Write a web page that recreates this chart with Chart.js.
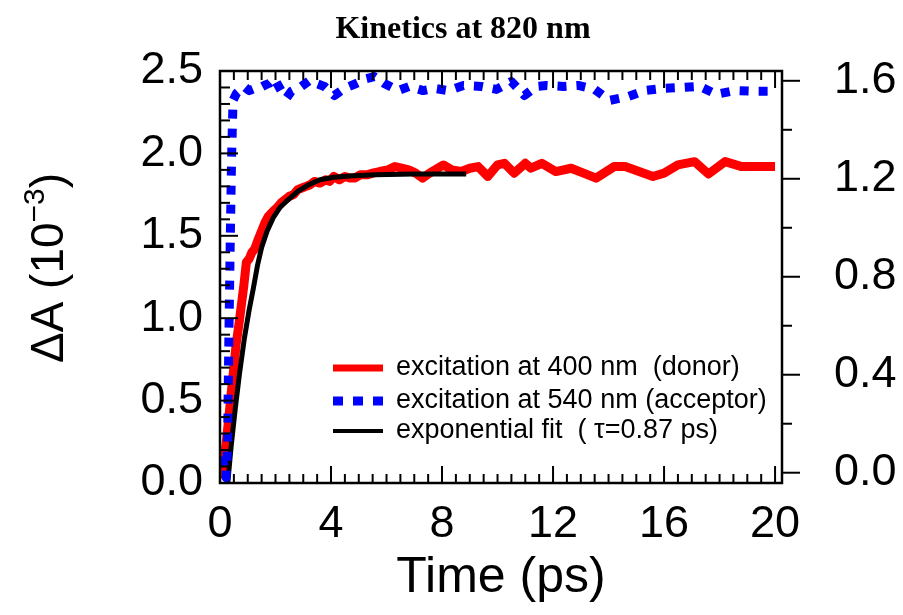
<!DOCTYPE html>
<html>
<head>
<meta charset="utf-8">
<script src="https://cdn.jsdelivr.net/npm/chart.js@4.4.0/dist/chart.umd.min.js"></script>
<style>
  html, body { margin: 0; padding: 0; background: #fff; }
</style>
</head>
<body>
<canvas id="grafico" width="903" height="615"></canvas>
<script>
// dati (tempo in ps, deltaA in 10^-3)
const redTime = [0.0, 0.05, 0.12, 0.22, 0.32, 0.4, 0.5, 0.58, 0.68, 0.77, 0.86, 0.95, 1.05, 1.15, 1.25, 1.38, 1.5, 1.62, 1.75, 1.92,
  2.05, 2.2, 2.35, 2.5, 2.65, 2.8, 2.95, 3.1, 3.25, 3.4, 3.6, 3.8, 3.95, 4.1, 4.3, 4.5, 4.7, 4.85, 5.05, 5.3,
  5.5, 5.75, 6.05, 6.3, 6.55, 6.8, 7.05, 7.3, 7.55, 7.75, 8.05, 8.35, 8.7, 9.0, 9.3, 9.65, 10.0, 10.25, 10.6, 11.0,
  11.2, 11.6, 12.1, 12.65, 13.1, 13.55, 14.2, 14.6, 15.1, 15.6, 16.0, 16.5, 17.1, 17.6, 18.2, 18.8, 19.4, 20.0];
const redValue = [0.03, 0.06, 0.1, 0.24, 0.4, 0.54, 0.7, 0.84, 0.96, 1.08, 1.2, 1.34, 1.36, 1.4, 1.42, 1.48, 1.53, 1.58, 1.62, 1.65,
  1.67, 1.7, 1.72, 1.74, 1.75, 1.78, 1.79, 1.8, 1.81, 1.83, 1.82, 1.84, 1.83, 1.86, 1.84, 1.86, 1.85, 1.85, 1.87, 1.87,
  1.88, 1.89, 1.9, 1.92, 1.91, 1.9, 1.88, 1.85, 1.88, 1.9, 1.93, 1.9, 1.89, 1.91, 1.92, 1.86, 1.93, 1.94, 1.88, 1.94,
  1.91, 1.94, 1.89, 1.91, 1.88, 1.85, 1.92, 1.92, 1.89, 1.86, 1.88, 1.93, 1.95, 1.875, 1.95, 1.92, 1.92, 1.92];

// serie blu sull'asse destro
const blueTime = [0.0, 0.08, 0.15, 0.22, 0.27, 0.32, 0.37, 0.42, 0.47, 0.6, 0.87, 1.05, 1.24, 1.42, 1.6, 1.78, 1.96, 2.2, 2.4, 2.57,
  2.93, 3.22, 3.47, 3.76, 4.12, 4.48, 4.91, 5.27, 5.56, 5.92, 6.42, 6.82, 7.32, 7.72, 8.23, 8.77, 9.41, 9.96, 10.5, 10.97,
  11.4, 11.77, 12.37, 12.9, 13.5, 14.04, 14.72, 15.3, 15.98, 16.7, 17.28, 17.89, 18.54, 19.26, 19.94];
const blueValue = [0.06, 0.05, 0.03, -0.02, 0.1, 0.55, 0.95, 1.3, 1.52, 1.55, 1.577, 1.56, 1.569, 1.57, 1.581, 1.59, 1.609, 1.56, 1.53, 1.557,
  1.577, 1.601, 1.589, 1.577, 1.54, 1.569, 1.589, 1.609, 1.617, 1.589, 1.56, 1.577, 1.56, 1.569, 1.56, 1.581, 1.577, 1.565, 1.597, 1.54,
  1.577, 1.581, 1.577, 1.581, 1.565, 1.52, 1.536, 1.56, 1.569, 1.573, 1.577, 1.545, 1.56, 1.557, 1.557];

// fit esponenziale
const fitTime = [0.28, 0.4, 0.55, 0.7, 0.88, 1.05, 1.2, 1.35, 1.5, 1.7, 1.92, 2.15, 2.46, 2.8, 3.2, 3.6, 4.1, 4.8, 5.6, 7.0, 8.87];
const fitValue = [0.0, 0.22, 0.45, 0.66, 0.88, 1.05, 1.18, 1.32, 1.43, 1.53, 1.61, 1.67, 1.72, 1.77, 1.81, 1.84, 1.855, 1.865, 1.87, 1.875, 1.875];

const xTicks = [0, 4, 8, 12, 16, 20];
const leftTicks = [0, 0.5, 1.0, 1.5, 2.0, 2.5];
const rightTicks = [0, 0.4, 0.8, 1.2, 1.6];

const chartTitle = "Kinetics at 820 nm";
const legendLabels = [
  "excitation at 400 nm  (donor)",
  "excitation at 540 nm (acceptor)",
  "exponential fit  ( \u03c4=0.87 ps)"
];

const punti = (tt, vv) => tt.map((t, i) => ({ x: t, y: vv[i] }));
const fontTick = { family: "'Liberation Sans', Arial, sans-serif", size: 45 };

// cornice e tacche interne/esterne
const cornice = {
  id: "cornice",
  afterDatasetsDraw(chart) {
    const { ctx, chartArea: a, scales } = chart;
    const sx = scales.x, yl = scales.y, yr = scales.y2;
    const seg = (x1, y1, x2, y2) => { ctx.beginPath(); ctx.moveTo(x1, y1); ctx.lineTo(x2, y2); ctx.stroke(); };
    ctx.save();
    ctx.strokeStyle = "#000";
    ctx.lineWidth = 2;
    for (let i = 0; i <= 40; i++) {
      const px = sx.getPixelForValue(i * 0.5);
      const len = i % 8 === 0 ? 17 : 9;
      seg(px, a.bottom, px, a.bottom - len);
      seg(px, a.top, px, a.top + len);
    }
    for (let i = 0; i <= 25; i++) {
      const py = yl.getPixelForValue(i * 0.1);
      seg(a.left, py, a.left + (i % 5 === 0 ? 18 : 10), py);
    }
    for (let i = 0; i <= 8; i++) {
      const py = yr.getPixelForValue(i * 0.2);
      seg(a.right, py, a.right + (i % 2 === 0 ? 18 : 10), py);
    }
    ctx.lineWidth = 2.5;
    ctx.strokeRect(a.left, a.top, a.right - a.left, a.bottom - a.top);
    ctx.restore();
  }
};

// legenda dentro l'area del grafico, titolo e titolo asse y
const testi = {
  id: "testi",
  afterDraw(chart) {
    const ctx = chart.ctx;
    ctx.save();
    ctx.fillStyle = "#000";

    // titolo
    ctx.font = "bold 32px 'Liberation Serif', 'Times New Roman', serif";
    ctx.textAlign = "center";
    ctx.textBaseline = "alphabetic";
    ctx.fillText(chartTitle, 463, 38);

    // legenda
    const righe = [368, 401, 431];
    ctx.font = "27px 'Liberation Sans', Arial, sans-serif";
    ctx.textAlign = "left";
    ctx.textBaseline = "middle";
    chart.data.datasets.forEach((ds, i) => {
      const y = righe[i];
      ctx.strokeStyle = ds.borderColor;
      ctx.lineWidth = ds.legendWidth;
      ctx.setLineDash(ds.borderDash.length ? [10, 10] : []);
      ctx.beginPath();
      ctx.moveTo(333, y);
      ctx.lineTo(383, y);
      ctx.stroke();
      ctx.setLineDash([]);
      ctx.fillText(ds.label, 396, y);
    });

    // titolo asse y con esponente
    const big = "46px 'Liberation Sans', Arial, sans-serif";
    const small = "30px 'Liberation Sans', Arial, sans-serif";
    ctx.translate(50, 268);
    ctx.rotate(-Math.PI / 2);
    ctx.font = big;
    const w1 = ctx.measureText("\u0394A (10").width;
    const w3 = ctx.measureText(")").width;
    ctx.font = small;
    const w2 = ctx.measureText("\u22123").width;
    const x0 = -(w1 + w2 + w3) / 2;
    ctx.font = big;
    ctx.fillText("\u0394A (10", x0, 0);
    ctx.font = small;
    ctx.fillText("\u22123", x0 + w1, -14);
    ctx.font = big;
    ctx.fillText(")", x0 + w1 + w2, 0);
    ctx.restore();
  }
};

const ctx = document.getElementById("grafico").getContext("2d");

new Chart(ctx, {
  type: "line",
  data: {
    datasets: [
      {
        label: legendLabels[0],
        data: punti(redTime, redValue),
        borderColor: "#ff0000",
        borderWidth: 9,
        legendWidth: 7,
        borderDash: [],
        yAxisID: "y",
        order: 3
      },
      {
        label: legendLabels[1],
        data: punti(blueTime, blueValue),
        borderColor: "#0000ff",
        borderWidth: 9,
        legendWidth: 9,
        borderDash: [9, 10],
        borderCapStyle: "butt",
        yAxisID: "y2",
        order: 1
      },
      {
        label: legendLabels[2],
        data: punti(fitTime, fitValue),
        borderColor: "#000000",
        borderWidth: 5,
        legendWidth: 4,
        borderDash: [],
        yAxisID: "y",
        order: 2
      }
    ]
  },
  options: {
    responsive: false,
    animation: false,
    layout: { padding: { top: 67 } },
    elements: {
      point: { radius: 0 },
      line: { tension: 0, borderJoinStyle: "round" }
    },
    plugins: {
      legend: { display: false },
      tooltip: { enabled: false },
      title: { display: false }
    },
    scales: {
      x: {
        type: "linear",
        min: 0,
        max: 20.25,
        grid: { display: false },
        border: { display: false },
        afterBuildTicks: (s) => { s.ticks = xTicks.map(v => ({ value: v })); },
        afterFit: (s) => { s.height = 132; },
        ticks: { color: "#000", font: fontTick, padding: 7, maxRotation: 0 },
        title: {
          display: true,
          text: "Time (ps)",
          color: "#000",
          font: { family: "'Liberation Sans', Arial, sans-serif", size: 50 },
          padding: { top: 0, bottom: 7 }
        }
      },
      y: {
        type: "linear",
        position: "left",
        min: 0,
        max: 2.5,
        grid: { display: false },
        border: { display: false },
        afterBuildTicks: (s) => { s.ticks = leftTicks.map(v => ({ value: v })); },
        afterFit: (s) => { s.width = 220; },
        ticks: { color: "#000", font: fontTick, padding: 9, callback: (v) => v.toFixed(1) }
      },
      y2: {
        type: "linear",
        position: "right",
        min: -0.042,
        max: 1.64,
        grid: { display: false },
        border: { display: false },
        afterBuildTicks: (s) => { s.ticks = rightTicks.map(v => ({ value: v })); },
        afterFit: (s) => { s.width = 121; },
        ticks: { color: "#000", font: fontTick, padding: 44, callback: (v) => v.toFixed(1) }
      }
    }
  },
  plugins: [cornice, testi]
});
</script>
</body>
</html>
